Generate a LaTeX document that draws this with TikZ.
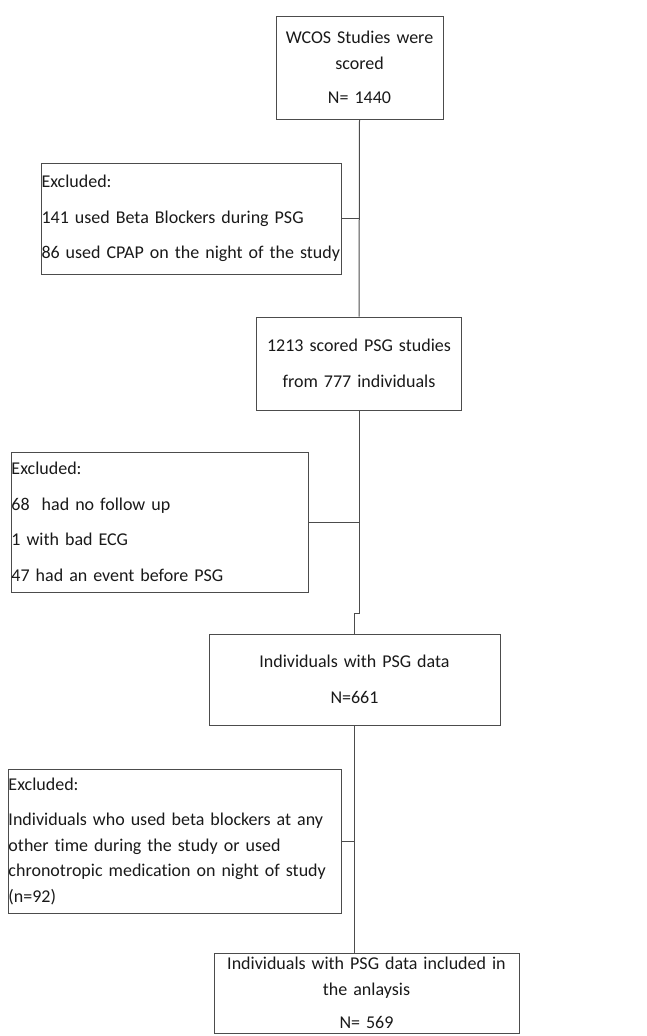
\documentclass[tikz,border=0pt]{standalone}
\usepackage{fontspec}
\setmainfont{Carlito}[Ligatures=NoCommon]
\usepackage{tikz}
\usetikzlibrary{positioning}

\begin{document}
\begin{tikzpicture}
  [
    x=1pt, y=1pt,
    Box/.style={rectangle, draw=black!70, line width=1pt, inner sep=1pt, align=center, text=black!90,
      font=\fontsize{18}{25.5}\selectfont},
    Left/.style={Box, align=left, inner xsep=0.5pt},
    Link/.style={draw, black!70, line width=1pt}
  ]
  \useasboundingbox (0,0) rectangle (647,-1036);
  % Nodes
  \node[Box, minimum width=167, minimum height=103, text width=165pt] (b1) at(359.5, -67.5)
    {WCOS Studies were\\ scored\\[9pt] N= 1440};
  \node[Left, minimum width=300, minimum height=111, text width=299pt] (e1) at(191, -218.5)
    {Excluded:\\[10pt] 141 used Beta Blockers during PSG\\[10pt] \mbox{86 used CPAP on the night of the study}};
  \node[Box, minimum width=205, minimum height=93, text width=203pt] (b2) at(359, -363.5)
    {1213 scored PSG studies\\[10pt] from 777 individuals};
  \node[Left, minimum width=297, minimum height=140, text width=296pt] (e2) at(159.5, -522)
    {Excluded:\\[10pt] 68\ \ had no follow up\\[10pt] 1 with bad ECG\\[10pt] 47 had an event\ before PSG};
  \node[Box, minimum width=291, minimum height=91, text width=289pt] (b3) at(354.5, -679.5)
    {Individuals with PSG data\\[10pt] N=661};
  \node[Left, minimum width=333, minimum height=144, text width=332pt] (e3) at(174.5, -841)
    {Excluded:\\[10pt] \mbox{Individuals who used beta blockers at any}\\ \mbox{other time during the study or used}\\
     \mbox{chronotropic medication on night of study}\\ (n=92)};
  \node[Box, minimum width=305, minimum height=80, text width=303pt] (b4) at(366.5, -993)
    {Individuals with PSG data included in\\ the anlaysis\\[8pt] N= 569};
  \coordinate (j1) at(359, -613);
  % Lines
  \path [Link] (b1.south) -- (b2.north);
  \path [Link] (e1.east) -- (e1.east -| b1.south);
  \path [Link] (b2.south) -- (j1) -| (b3.north);
  \path [Link] (e2.east) -- (e2.east -| b2.south);
  \path [Link] (b3.south) -- (b3.south |- b4.north);
  \path [Link] (e3.east) -- (e3.east -| b3.south);
\end{tikzpicture}
\end{document}
